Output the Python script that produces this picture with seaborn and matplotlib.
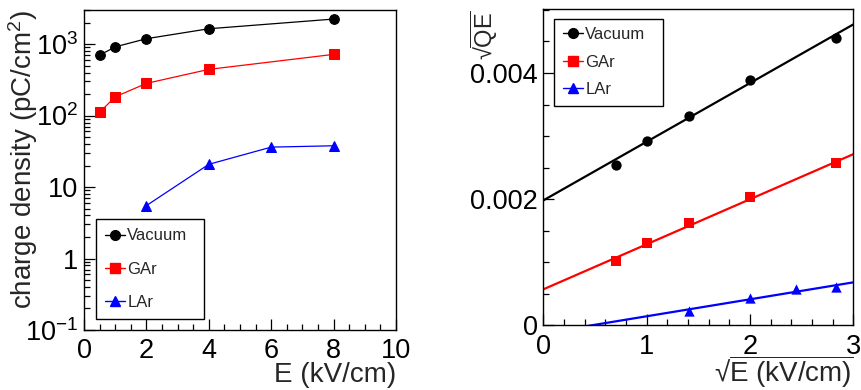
import numpy as np
import pandas as pd
import matplotlib
matplotlib.use("Agg")
import matplotlib.pyplot as plt
import seaborn as sns
from matplotlib.lines import Line2D
from matplotlib.ticker import FixedLocator, FixedFormatter, MultipleLocator, LogLocator, NullFormatter

# ---------------- data ----------------
series = ["Vacuum", "GAr", "LAr"]
colors = ["#000000", "#ff0000", "#0000ff"]
markers = ["o", "s", "^"]

# left panel: charge density vs E
E_vac = [0.5, 1, 2, 4, 8]
Q_vac = [700, 915, 1190, 1640, 2240]
E_gar = [0.5, 1, 2, 4, 8]
Q_gar = [111, 183, 282, 443, 718]
E_lar = [2, 4, 6, 8]
Q_lar = [5.5, 20.8, 36.2, 37.8]

# right panel: sqrt(QE) vs sqrt(E)
sE_vac = [0.707, 1.0, 1.414, 2.0, 2.828]
sQE_vac = [2.543e-3, 2.923e-3, 3.319e-3, 3.895e-3, 4.554e-3]
sE_gar = [0.707, 1.0, 1.414, 2.0, 2.828]
sQE_gar = [1.013e-3, 1.298e-3, 1.615e-3, 2.037e-3, 2.570e-3]
sE_lar = [1.414, 2.0, 2.449, 2.828]
sQE_lar = [0.222e-3, 0.432e-3, 0.570e-3, 0.600e-3]

# linear fit lines (endpoints at sqrtE = 0 and 3)
fit_x = [0.0, 3.0]
fit_vac = [1.98e-3, 4.77e-3]
fit_gar = [0.57e-3, 2.713e-3]
fit_lar = [-0.126e-3, 0.681e-3]

left_yticks = [0.1, 1, 10, 100, 1000]
left_yticklabels = [r"$10^{-1}$", "1", "10", r"$10^{2}$", r"$10^{3}$"]

# ---------------- style ----------------
sns.set_style("white")
plt.rcParams["font.family"] = ["Liberation Sans", "DejaVu Sans"]
plt.rcParams["mathtext.fontset"] = "custom"
plt.rcParams["mathtext.rm"] = "Liberation Sans"
plt.rcParams["mathtext.it"] = "Liberation Sans:italic"
plt.rcParams["mathtext.bf"] = "Liberation Sans:bold"

fig = plt.figure(figsize=(8.61, 3.9), dpi=100)
W, H = 861, 390
axL = fig.add_axes([84 / W, (H - 330) / H, 312 / W, 320 / H])
axR = fig.add_axes([543.3 / W, (H - 325.3) / H, 310 / W, 316 / H])

TICK_FS = 19.5
LAB_FS = 20
LEG_FS = 12

# ---------------- left panel ----------------
left_sets = [(E_vac, Q_vac), (E_gar, Q_gar), (E_lar, Q_lar)]
for (x, y), name, c, m in zip(left_sets, series, colors, markers):
    df = pd.DataFrame({"E": x, "Q": y})
    sns.lineplot(data=df, x="E", y="Q", ax=axL, color=c, marker=m, markersize=7,
                 markeredgecolor=c, linewidth=0.9, label=name, legend=False)

axL.set_yscale("log")
axL.set_xlim(0, 10)
axL.set_ylim(0.1, 3000)
axL.xaxis.set_major_locator(MultipleLocator(2))
axL.xaxis.set_minor_locator(MultipleLocator(0.5))
axL.yaxis.set_major_locator(FixedLocator(left_yticks))
axL.yaxis.set_major_formatter(FixedFormatter(left_yticklabels))
axL.yaxis.set_minor_locator(LogLocator(base=10, subs=np.arange(2, 10)))
axL.yaxis.set_minor_formatter(NullFormatter())

axL.set_xlabel("E (kV/cm)", fontsize=LAB_FS, ha="right")
axL.xaxis.set_label_coords(1.0, -0.10)
axL.set_ylabel(r"charge density (pC/cm$^{2}$)", fontsize=LAB_FS, ha="right")
axL.yaxis.set_label_coords(-0.14, 1.0)

# ---------------- right panel ----------------
right_sets = [(sE_vac, sQE_vac), (sE_gar, sQE_gar), (sE_lar, sQE_lar)]
fits = [fit_vac, fit_gar, fit_lar]
for (x, y), f, c, m in zip(right_sets, fits, colors, markers):
    dff = pd.DataFrame({"x": fit_x, "y": f})
    sns.lineplot(data=dff, x="x", y="y", ax=axR, color=c, linewidth=1.6, legend=False)
    dfp = pd.DataFrame({"x": x, "y": y})
    sns.scatterplot(data=dfp, x="x", y="y", ax=axR, color=c, marker=m, s=55,
                    edgecolor=c, linewidth=0, legend=False, zorder=3)

axR.set_xlim(0, 3)
axR.set_ylim(0, 0.00501)
axR.xaxis.set_major_locator(MultipleLocator(1))
axR.xaxis.set_minor_locator(MultipleLocator(0.2))
axR.yaxis.set_major_locator(FixedLocator([0, 0.002, 0.004]))
axR.yaxis.set_major_formatter(FixedFormatter(["0", "0.002", "0.004"]))
axR.yaxis.set_minor_locator(MultipleLocator(0.0005))
axR.yaxis.set_minor_formatter(NullFormatter())

axR.set_xlabel("\u221a" + r"$\overline{\mathrm{E\ (kV/cm)}}$", fontsize=LAB_FS, ha="right")
axR.xaxis.set_label_coords(1.0, -0.09)
axR.set_ylabel("\u221a" + r"$\overline{\mathrm{QE}}$", fontsize=17, ha="right")
axR.yaxis.set_label_coords(-0.14, 0.995)

# ---------------- common axis styling ----------------
for ax in (axL, axR):
    for s in ax.spines.values():
        s.set_visible(True)
        s.set_color("black")
        s.set_linewidth(1.0)
    ax.tick_params(which="both", direction="in", top=False, right=False,
                   bottom=True, left=True, colors="black", width=0.9)
    ax.tick_params(which="major", length=8, labelsize=TICK_FS, pad=4)
    ax.tick_params(which="minor", length=4)
    ax.tick_params(axis="x", which="major", pad=6)

# ---------------- legends ----------------
handles = [Line2D([0], [0], color=c, marker=m, markersize=7, linewidth=1.0,
                  markeredgecolor=c) for c, m in zip(colors, markers)]

legL = axL.legend(handles, series, loc="lower left",
                  bbox_to_anchor=((95.7 - 84) / 312, (330 - 319.3) / 320, 108.3 / 312, 0.3),
                  mode="expand",
                  fontsize=LEG_FS, frameon=True, fancybox=False, framealpha=1,
                  edgecolor="black", handlelength=1.2, handletextpad=0.15,
                  labelspacing=1.1, borderpad=0.55, borderaxespad=0)
legL.get_frame().set_linewidth(1.0)

legR = axR.legend(handles, series, loc="upper left",
                  bbox_to_anchor=((554.3 - 543.3) / 310, 0.0, 108.4 / 310, (325.3 - 19) / 316),
                  mode="expand",
                  fontsize=LEG_FS, frameon=True, fancybox=False, framealpha=1,
                  edgecolor="black", handlelength=1.2, handletextpad=0.15,
                  labelspacing=0.75, borderpad=0.5, borderaxespad=0)
legR.get_frame().set_linewidth(1.0)

fig.savefig("out.png", dpi=100)
